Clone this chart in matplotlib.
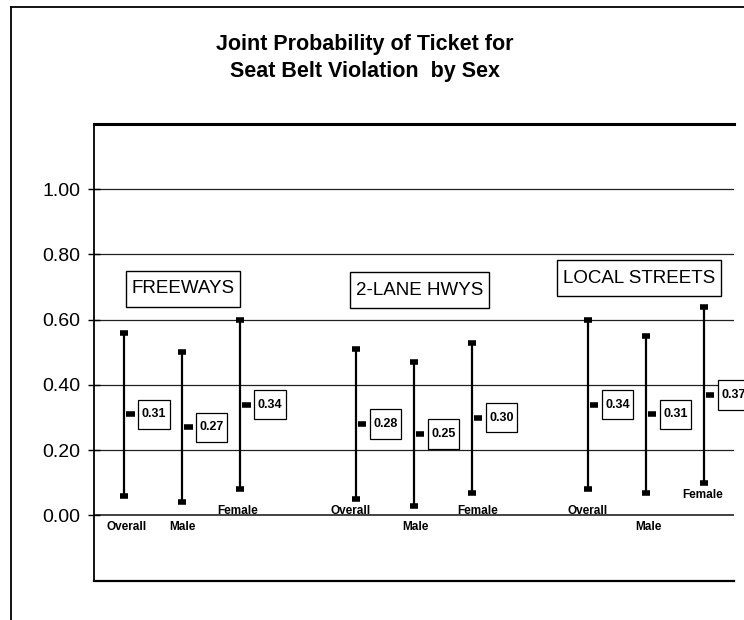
import numpy as np
import matplotlib.pyplot as plt
from matplotlib.lines import Line2D
from matplotlib.path import Path

plt.rcParams['font.family'] = ['Liberation Sans', 'DejaVu Sans']

# data
groups = ['FREEWAYS', '2-LANE HWYS', 'LOCAL STREETS']
sexes = ['Overall', 'Male', 'Female']
means = [0.31, 0.27, 0.34, 0.28, 0.25, 0.30, 0.34, 0.31, 0.37]
lows = [0.06, 0.04, 0.08, 0.05, 0.03, 0.07, 0.08, 0.07, 0.10]
highs = [0.56, 0.50, 0.60, 0.51, 0.47, 0.53, 0.60, 0.55, 0.64]
yticks = [0.0, 0.2, 0.4, 0.6, 0.8, 1.0]

# layout helpers
xpos = np.array([0, 1, 2, 4, 5, 6, 8, 9, 10])
cat_y = [-0.035, -0.035, 0.015, 0.015, -0.035, 0.015, 0.015, -0.035, 0.062]
cat_dx = [0.05, 0.0, -0.05, -0.1, 0.03, 0.1, 0.0, 0.04, -0.02]
grp_pos = [(1.02, 0.695), (5.1, 0.69), (8.88, 0.727)]


def box(padx, pady):
    # rectangle with separate horizontal / vertical padding (fraction of font size)
    def style(x0, y0, w, h, size):
        px, py = padx * size, pady * size
        x0, y0, w, h = x0 - px, y0 - py, w + 2 * px, h + 2 * py
        return Path([(x0, y0), (x0 + w, y0), (x0 + w, y0 + h), (x0, y0 + h), (x0, y0)],
                    closed=True)
    return style


fig = plt.figure(figsize=(7.44, 6.2), dpi=100)
ax = fig.add_axes([94 / 744, 1 - 580.7 / 620, 640 / 744, (580.7 - 124) / 620])

ax.set_xlim(-0.52, 10.52)
ax.set_ylim(-0.2, 1.2)

for y in yticks:
    ax.axhline(y, color='#222222', lw=0.9 if y else 1.2, zorder=1)

means = np.array(means)
lows = np.array(lows)
highs = np.array(highs)
ax.errorbar(xpos, means, yerr=[means - lows, highs - means], fmt='none',
            ecolor='black', elinewidth=1.6, capsize=3, capthick=4, zorder=3)
# mean markers: short thick dash on the right side of each bar
ax.hlines(means, xpos + 0.04, xpos + 0.18, color='black', lw=4, zorder=3)

for x, m in zip(xpos, means):
    ax.text(x + 0.3, m, f'{m:.2f}', fontsize=9, fontweight='bold',
            ha='left', va='center', zorder=4,
            bbox=dict(boxstyle=box(0.28, 0.7), fc='white', ec='black', lw=0.9))

for i, x in enumerate(xpos):
    ax.text(x + cat_dx[i], cat_y[i], sexes[i % 3], fontsize=8.5, fontweight='bold',
            ha='center', va='center', zorder=4)

for g, (gx, gy) in zip(groups, grp_pos):
    ax.text(gx, gy, g, fontsize=13.5, ha='center', va='center', zorder=4,
            bbox=dict(boxstyle=box(0.3, 0.5), fc='white', ec='black', lw=1.0))

ax.set_yticks(yticks)
ax.set_yticklabels([f'{v:.2f}' for v in yticks], fontsize=14)
ax.tick_params(axis='y', direction='inout', length=8, width=1, pad=6)
ax.set_xticks([])

ax.spines['right'].set_visible(False)
ax.spines['left'].set_linewidth(1.3)
ax.spines['top'].set_linewidth(2.2)
ax.spines['bottom'].set_linewidth(1.6)

fig.text(0.49, 0.906, 'Joint Probability of Ticket for\nSeat Belt Violation  by Sex',
         ha='center', va='center', fontsize=15.5, fontweight='bold', linespacing=1.4)

# outer frame
fx, fy = 10.5 / 744, 1 - 6.5 / 620
fig.add_artist(Line2D([fx, fx], [0, fy], color='black', lw=1.3))
fig.add_artist(Line2D([fx, 1], [fy, fy], color='black', lw=1.3))

fig.savefig('out.png', dpi=100)
